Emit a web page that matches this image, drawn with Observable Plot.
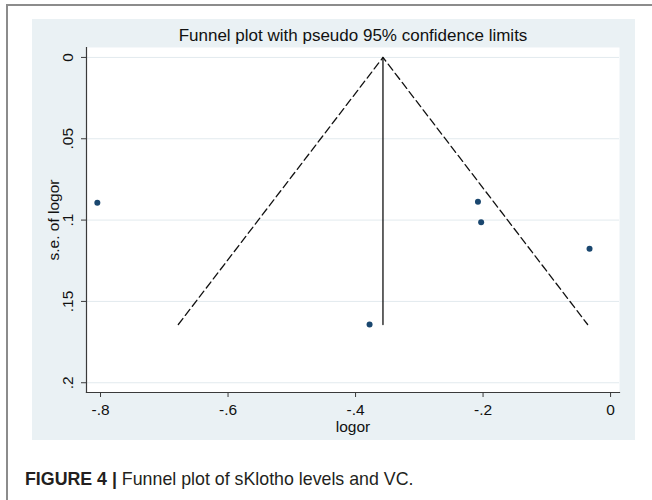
<!DOCTYPE html>
<html>
<head>
<meta charset="utf-8">
<script src="https://cdn.jsdelivr.net/npm/d3@7"></script>
<script src="https://cdn.jsdelivr.net/npm/@observablehq/plot@0.6"></script>
<style>
  body { margin: 0; background: #fff; width: 652px; height: 500px; overflow: hidden; font-family: "Liberation Sans", Arial, sans-serif; }
  #frame { position: absolute; left: 6px; top: 4px; width: 646px; height: 496px; border-top: 2px solid #8c8c8c; border-left: 2px solid #8c8c8c; }
  #panel { position: absolute; left: 32px; top: 19px; width: 603px; height: 421px; background: #eaf1f4; }
  #chart { position: absolute; left: 0; top: 0; }
  #caption { position: absolute; left: 25px; top: 469px; font-family: "Liberation Sans Narrow", "Liberation Sans", Arial, sans-serif; font-size: 17.8px; color: #231f20; white-space: nowrap; }
  #caption b { font-family: "Liberation Sans", Arial, sans-serif; font-weight: bold; }
</style>
</head>
<body>
<div id="frame"></div>
<div id="panel"></div>
<div id="chart"></div>
<div id="caption"><b>FIGURE 4 |</b> Funnel plot of sKlotho levels and VC.</div>
<script>
// Study estimates (log odds ratio) and their standard errors
const studyLogor = [-0.805, -0.208, -0.203, -0.033, -0.378];
const studySe    = [0.0894, 0.0888, 0.1013, 0.1177, 0.1642];
// Pooled estimate line
const pooledLogor = [-0.357, -0.357];
const pooledSe    = [0, 0.1642];
// Pseudo 95% confidence limit lines (left end, apex, right end)
const funnelLogor = [-0.678, -0.357, -0.036];
const funnelSe    = [0.1642, 0, 0.1642];
// Ticks
const xTicks = [-0.8, -0.6, -0.4, -0.2, 0];
const yTicks = [0, 0.05, 0.1, 0.15, 0.2];
const xTickLabels = ["-.8", "-.6", "-.4", "-.2", "0"];
const yTickLabels = ["0", ".05", ".1", ".15", ".2"];

const points = studyLogor.map((x, i) => ({x, y: studySe[i]}));
const pooled = pooledLogor.map((x, i) => ({x, y: pooledSe[i]}));
const funnel = funnelLogor.map((x, i) => ({x, y: funnelSe[i]}));
const yTickData = yTicks.map((y, i) => ({y, t: yTickLabels[i]}));
const fmtX = d => xTickLabels[xTicks.indexOf(d)];

const axisColor = "#3a3a3a";
const gridColor = "#e2eaee";
const fs = 15.5;

const chart = Plot.plot({
  width: 652,
  height: 445,
  marginLeft: 86,
  marginRight: 33,
  marginTop: 47,
  marginBottom: 53,
  style: {background: "transparent", fontFamily: "'Liberation Sans', Arial, sans-serif", fontSize: fs + "px", color: "#111"},
  x: {domain: [-0.822, 0.014]},
  y: {domain: [-0.0061, 0.206], reverse: true},
  marks: [
    Plot.frame({fill: "white", stroke: "none"}),
    Plot.ruleY(yTicks, {stroke: gridColor, strokeWidth: 1}),
    Plot.line(funnel, {x: "x", y: "y", stroke: "#111", strokeWidth: 1.3, strokeDasharray: "7.5,4"}),
    Plot.line(pooled, {x: "x", y: "y", stroke: "#111", strokeWidth: 1.3}),
    Plot.dot(points, {x: "x", y: "y", r: 3, fill: "#1a476f", stroke: "none"}),
    Plot.frame({anchor: "left", stroke: axisColor, strokeWidth: 1.2}),
    Plot.frame({anchor: "bottom", stroke: axisColor, strokeWidth: 1.2}),
    Plot.axisY(yTicks, {tickSize: 5, tickFormat: () => "", label: null, stroke: axisColor}),
    Plot.text(yTickData, {y: "y", text: "t", frameAnchor: "left", dx: -18, rotate: -90, textAnchor: "middle", lineAnchor: "middle", fontSize: fs, fill: "#111"}),
    Plot.axisX(xTicks, {tickSize: 5, tickPadding: 6, tickFormat: fmtX, label: null, fontSize: fs, stroke: axisColor, fill: "#111"}),
    Plot.text(["logor"], {frameAnchor: "bottom", dy: 35, lineAnchor: "middle", fontSize: fs, fill: "#111"}),
    Plot.text(["s.e. of logor"], {frameAnchor: "left", dx: -32, rotate: -90, textAnchor: "middle", lineAnchor: "middle", fontSize: fs, fill: "#111"}),
    Plot.text(["Funnel plot with pseudo 95% confidence limits"], {frameAnchor: "top", dy: -12, lineAnchor: "middle", fontSize: 17, fill: "#111"})
  ]
});
document.getElementById("chart").appendChild(chart);
</script>
</body>
</html>
